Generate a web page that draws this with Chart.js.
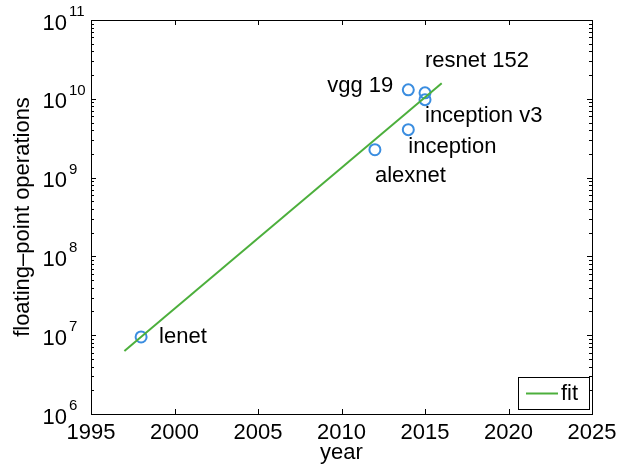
<!DOCTYPE html>
<html>
<head>
<meta charset="utf-8">
<script src="https://cdn.jsdelivr.net/npm/chart.js@4"></script>
<style>
  body { margin: 0; background: #fff; }
  #wrap { width: 626px; height: 468px; }
</style>
</head>
<body>
<div id="wrap"><canvas id="myChart" width="626" height="468"></canvas></div>
<script>
const models = ["lenet", "alexnet", "inception", "vgg 19", "resnet 152", "inception v3"];
const years = [1998, 2012, 2014, 2014, 2015, 2015];
const flops = [9.5e6, 2.26e9, 4.06e9, 1.3e10, 1.19e10, 9.75e9];

const fitYears = [1997, 2016];
const fitFlops = [6.3e6, 1.58e10];

const yearTicks = [1995, 2000, 2005, 2010, 2015, 2020, 2025];
const flopExponents = [6, 7, 8, 9, 10, 11];

const FONT = "'Liberation Sans', Arial, sans-serif";
const BLUE = "rgb(58, 141, 224)";
const GREEN = "rgb(76, 175, 60)";

// label offsets in px from the marker: [dx, dy, align]
const labelOffsets = {
  "lenet": [18, 0, "left"],
  "alexnet": [0, 26, "left"],
  "inception": [0, 17, "left"],
  "vgg 19": [-15, -4, "right"],
  "resnet 152": [0, -32, "left"],
  "inception v3": [0, 16, "left"],
};

const decorations = {
  id: "decorations",
  afterDraw(chart) {
    const { ctx, chartArea: a, scales } = chart;
    const x = scales.x, y = scales.y;
    ctx.save();
    ctx.strokeStyle = "#000";
    ctx.lineWidth = 1;

    // box top + right
    ctx.beginPath();
    ctx.moveTo(a.left, a.top + 0.5);
    ctx.lineTo(a.right + 0.5, a.top + 0.5);
    ctx.lineTo(a.right + 0.5, a.bottom);
    ctx.stroke();

    // inward ticks, x
    ctx.beginPath();
    yearTicks.forEach((t) => {
      const px = Math.round(x.getPixelForValue(t)) + 0.5;
      ctx.moveTo(px, a.bottom); ctx.lineTo(px, a.bottom - 5);
      ctx.moveTo(px, a.top); ctx.lineTo(px, a.top + 5);
    });
    // inward ticks, y (major + minor)
    flopExponents.forEach((e) => {
      for (let m = 1; m <= 9; m++) {
        if (e === flopExponents[flopExponents.length - 1] && m > 1) break;
        const py = Math.round(y.getPixelForValue(m * Math.pow(10, e))) + 0.5;
        const len = m === 1 ? 5 : 3;
        ctx.moveTo(a.left, py); ctx.lineTo(a.left + len, py);
        ctx.moveTo(a.right, py); ctx.lineTo(a.right - len, py);
      }
    });
    ctx.stroke();

    // y tick labels 10^n
    ctx.fillStyle = "#000";
    flopExponents.forEach((e) => {
      const py = y.getPixelForValue(Math.pow(10, e));
      ctx.font = "22px " + FONT;
      ctx.textAlign = "right";
      ctx.textBaseline = "alphabetic";
      ctx.fillText("10", 67, py + 9.5);
      ctx.font = "15px " + FONT;
      ctx.textAlign = "left";
      ctx.fillText(String(e), 69, py - 4);
    });

    // point labels
    ctx.font = "22px " + FONT;
    ctx.textBaseline = "middle";
    models.forEach((name, i) => {
      const off = labelOffsets[name];
      const px = x.getPixelForValue(years[i]);
      const py = y.getPixelForValue(flops[i]);
      ctx.textAlign = off[2];
      ctx.fillText(name, px + off[0], py + off[1]);
    });

    // legend
    const fit = chart.data.datasets[0];
    const bx = 518, by = 377, bw = 71, bh = 32;
    ctx.fillStyle = "#fff";
    ctx.fillRect(bx, by, bw, bh);
    ctx.strokeRect(bx + 0.5, by + 0.5, bw, bh);
    ctx.strokeStyle = fit.borderColor;
    ctx.lineWidth = 2;
    ctx.beginPath();
    ctx.moveTo(bx + 8, by + 16.5);
    ctx.lineTo(bx + 40, by + 16.5);
    ctx.stroke();
    ctx.fillStyle = "#000";
    ctx.textAlign = "left";
    ctx.fillText(fit.label, bx + 43, by + 17);
    ctx.restore();
  },
};

const ctx = document.getElementById("myChart");

new Chart(ctx, {
  type: "scatter",
  data: {
    datasets: [
      {
        label: "fit",
        data: fitYears.map((yr, i) => ({ x: yr, y: fitFlops[i] })),
        showLine: true,
        borderColor: GREEN,
        borderWidth: 2,
        pointRadius: 0,
      },
      {
        label: "models",
        data: years.map((yr, i) => ({ x: yr, y: flops[i] })),
        borderColor: BLUE,
        backgroundColor: "rgba(0,0,0,0)",
        borderWidth: 2,
        pointRadius: 5.5,
      },
    ],
  },
  options: {
    responsive: false,
    animation: false,
    devicePixelRatio: 1,
    layout: { padding: { top: 20, right: 34, left: 0, bottom: 0 } },
    plugins: {
      legend: { display: false },
      tooltip: { enabled: false },
    },
    scales: {
      x: {
        type: "linear",
        min: 1995,
        max: 2025,
        afterFit: (s) => { s.height = 54; },
        afterBuildTicks: (s) => { s.ticks = yearTicks.map((v) => ({ value: v })); },
        ticks: {
          font: { family: FONT, size: 22 },
          color: "#000",
          padding: 6,
          maxRotation: 0,
          autoSkip: false,
          callback: (v) => String(v),
        },
        grid: { display: false, drawTicks: false },
        border: { display: true, color: "#000", width: 1 },
        title: {
          display: true,
          text: "year",
          color: "#000",
          font: { family: FONT, size: 22 },
          padding: { top: 0, bottom: 2 },
        },
      },
      y: {
        type: "logarithmic",
        min: 1e6,
        max: 1e11,
        afterFit: (s) => { s.width = 91; },
        ticks: { display: false },
        grid: { display: false, drawTicks: false },
        border: { display: true, color: "#000", width: 1 },
        title: {
          display: true,
          text: "floating\u2013point operations",
          color: "#000",
          font: { family: FONT, size: 22 },
          padding: { top: 9.5, bottom: 0 },
        },
      },
    },
  },
  plugins: [decorations],
});
</script>
</body>
</html>
